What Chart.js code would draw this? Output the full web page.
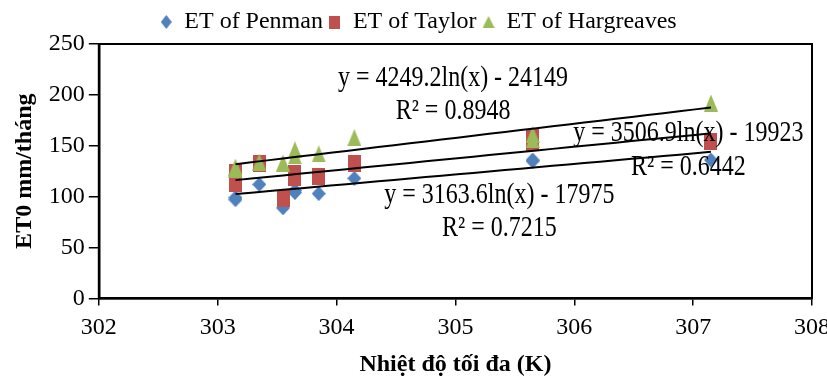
<!DOCTYPE html>
<html>
<head>
<meta charset="utf-8">
<script src="https://cdn.jsdelivr.net/npm/chart.js@4.4.1/dist/chart.umd.min.js"></script>
<style>
  html, body { margin: 0; padding: 0; background: #fff; }
  #wrap { width: 827px; height: 379px; position: relative; }
</style>
</head>
<body>
<div id="wrap"><canvas id="chart"></canvas></div>
<script>
// --- Data ---
const tempK = [303.15, 303.15, 303.35, 303.55, 303.65, 303.65, 303.85, 304.15, 305.65, 305.65, 307.15];
const etPenman = [97, 99, 112, 89, 104, 106, 103, 118, 135, 136, 136];
const etTaylor = [113, 124, 133, 98, 119, 123, 120, 133, 153, 158, 154];
const etHargreaves = [127, 129, 134, 133, 140, 146, 142, 158, 156, 161, 192];

const seriesNames = ["ET of Penman", "ET of Taylor", "ET of Hargreaves"];
// trend lines y = a ln(x) + b, as printed on the chart
const trendA = [3163.6, 3506.9, 4249.2];
const trendB = [-17975, -19923, -24149];
const trendR2 = ["0.7215", "0.6442", "0.8948"];

const xTicks = [302, 303, 304, 305, 306, 307, 308];
const yTicks = [0, 50, 100, 150, 200, 250];

// --- Styling ---
const FONT = "'Liberation Serif', 'Times New Roman', serif";
const colors = ["#4F81BD", "#C0504D", "#9BBB59"];

function makeMarker(shape, w, h, color) {
  const c = document.createElement("canvas");
  c.width = w;
  c.height = h;
  const g = c.getContext("2d");
  g.fillStyle = color;
  g.beginPath();
  if (shape === "diamond") {
    g.moveTo(w / 2, 0);
    g.lineTo(w, h / 2);
    g.lineTo(w / 2, h);
    g.lineTo(0, h / 2);
  } else if (shape === "triangle") {
    g.moveTo(w / 2, 0);
    g.lineTo(w, h);
    g.lineTo(0, h);
  } else {
    g.rect(0, 0, w, h);
  }
  g.closePath();
  g.fill();
  return c;
}

const markers = [
  makeMarker("diamond", 14, 15, colors[0]),
  makeMarker("square", 13, 17, colors[1]),
  makeMarker("triangle", 14, 17, colors[2]),
];
const legendMarkers = [
  makeMarker("diamond", 11, 14, colors[0]),
  makeMarker("square", 11, 13, colors[1]),
  makeMarker("triangle", 12, 12, colors[2]),
];

const seriesValues = [etPenman, etTaylor, etHargreaves];

const scatterSets = seriesValues.map((vals, i) => ({
  label: seriesNames[i],
  type: "scatter",
  data: tempK.map((x, j) => ({ x: x, y: vals[j] })),
  pointStyle: markers[i],
  backgroundColor: colors[i],
  borderColor: colors[i],
  order: 3 - i,
}));

// fitted curves from the printed equations, across the data's x range
const xMin = Math.min(...tempK);
const xMax = Math.max(...tempK);
const trendSets = trendA.map((a, i) => {
  const pts = [];
  for (let k = 0; k <= 30; k++) {
    const x = xMin + (xMax - xMin) * k / 30;
    pts.push({ x: x, y: a * Math.log(x) + trendB[i] });
  }
  return {
    label: "trend" + i,
    type: "line",
    data: pts,
    borderColor: "#000",
    borderWidth: 2,
    pointRadius: 0,
    fill: false,
    order: 0,
    isTrend: true,
  };
});

// where the equation boxes sit, in data units
const eqBoxes = [
  { x: 305.37, y: 101.5, ry: 69 },
  { x: 306.96, y: 162.5, ry: 128.5 },
  { x: 304.98, y: 216, ry: 184 },
];

const framePlugin = {
  id: "frame",
  afterDraw(chart) {
    const { ctx, chartArea: a, scales } = chart;
    ctx.save();
    ctx.strokeStyle = "#000";
    ctx.lineWidth = 2;
    ctx.strokeRect(a.left, a.top, a.right - a.left, a.bottom - a.top);

    ctx.fillStyle = "#000";
    ctx.font = "24px " + FONT;
    ctx.textAlign = "center";
    ctx.textBaseline = "middle";
    eqBoxes.forEach((b, i) => {
      const px = scales.x.getPixelForValue(b.x);
      const lines = [
        [`y = ${trendA[i]}ln(x) - ${-trendB[i]}`, b.y],
        [`R² = ${trendR2[i]}`, b.ry],
      ];
      lines.forEach(([txt, v]) => {
        ctx.save();
        ctx.translate(px, scales.y.getPixelForValue(v));
        ctx.scale(1, 1.2);
        ctx.fillText(txt, 0, 0);
        ctx.restore();
      });
    });
    ctx.restore();
  },
};

new Chart(document.getElementById("chart"), {
  type: "scatter",
  data: { datasets: [...trendSets, ...scatterSets] },
  options: {
    responsive: true,
    maintainAspectRatio: false,
    animation: false,
    layout: { padding: { left: 10, right: 0, top: 4, bottom: 0 } },
    plugins: {
      legend: {
        position: "top",
        labels: {
          usePointStyle: true,
          color: "#000",
          font: { family: FONT, size: 24 },
          padding: 6,
          boxHeight: 12,
          pointStyleWidth: 12,
          filter: (item, data) => !data.datasets[item.datasetIndex].isTrend,
          sort: (a, b) => a.datasetIndex - b.datasetIndex,
          generateLabels(chart) {
            const items = Chart.defaults.plugins.legend.labels.generateLabels(chart);
            items.forEach((it) => {
              const idx = seriesNames.indexOf(it.text);
              if (idx >= 0) it.pointStyle = legendMarkers[idx];
            });
            return items;
          },
        },
      },
      tooltip: { enabled: false },
    },
    scales: {
      x: {
        type: "linear",
        min: xTicks[0],
        max: xTicks[xTicks.length - 1],
        afterBuildTicks: (s) => { s.ticks = xTicks.map((v) => ({ value: v })); },
        // let the last label run off the edge, as in the original
        afterFit: (s) => { s.paddingRight = 15; },
        ticks: { color: "#000", font: { family: FONT, size: 24 }, padding: 8 },
        grid: { drawOnChartArea: false, drawTicks: true, tickLength: 7, color: "#000", lineWidth: 1.5 },
        border: { color: "#000", width: 2.5 },
        title: {
          display: true,
          text: "Nhiệt độ tối đa (K)",
          color: "#000",
          font: { family: FONT, size: 24, weight: "bold" },
          padding: { top: 0, bottom: 0 },
        },
      },
      y: {
        min: yTicks[0],
        max: yTicks[yTicks.length - 1],
        afterBuildTicks: (s) => { s.ticks = yTicks.map((v) => ({ value: v })); },
        ticks: { color: "#000", font: { family: FONT, size: 24 }, padding: 4 },
        grid: { drawOnChartArea: false, drawTicks: true, tickLength: 10, color: "#000", lineWidth: 1.5 },
        border: { color: "#000", width: 2.5 },
        title: {
          display: true,
          text: "ET0 mm/tháng",
          color: "#000",
          font: { family: FONT, size: 24, weight: "bold" },
          padding: { top: 0, bottom: 6 },
        },
      },
    },
  },
  plugins: [framePlugin],
});
</script>
</body>
</html>
